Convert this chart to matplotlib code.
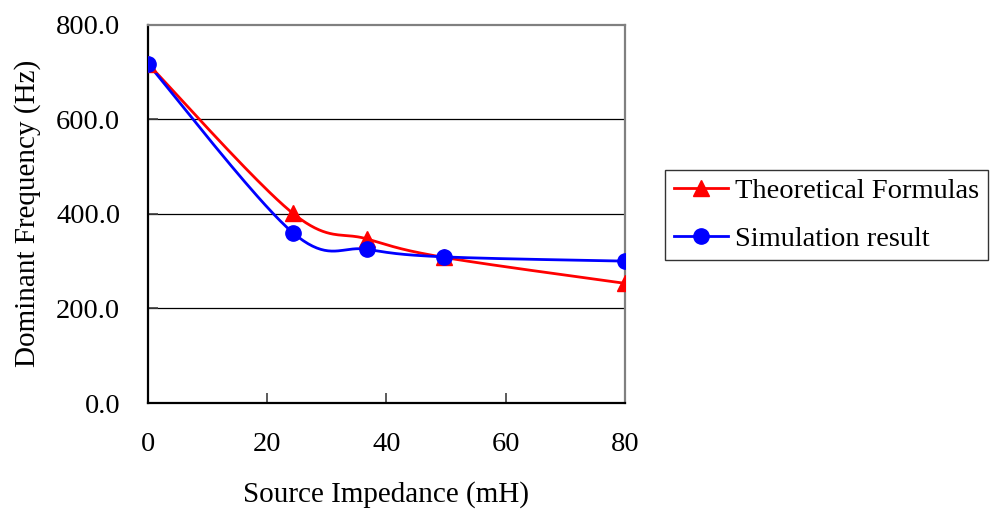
import numpy as np
import matplotlib.pyplot as plt

plt.rcParams['font.family'] = ['Liberation Serif', 'DejaVu Serif']

impedance = [0, 24.3, 36.7, 49.6, 80]
theoretical = [717, 401, 347, 308, 253]
simulation = [717, 360, 325, 309, 300]

x_ticks = [0, 20, 40, 60, 80]
y_ticks = [0, 200, 400, 600, 800]


def smooth(xs, ys, sx, sy, n=40):
    # excel-like smoothed line (catmull-rom through the points)
    p = np.column_stack([np.asarray(xs, float) / sx, np.asarray(ys, float) / sy])
    p = np.vstack([p[0], p, p[-1]])
    out = []
    for i in range(1, len(p) - 2):
        p0, p1, p2, p3 = p[i - 1], p[i], p[i + 1], p[i + 2]
        t = np.linspace(0, 1, n)[:, None]
        c = 0.5 * ((2 * p1) + (-p0 + p2) * t + (2 * p0 - 5 * p1 + 4 * p2 - p3) * t ** 2
                   + (-p0 + 3 * p1 - 3 * p2 + p3) * t ** 3)
        out.append(c)
    c = np.vstack(out)
    return c[:, 0] * sx, c[:, 1] * sy


fig = plt.figure(figsize=(9.9, 5.13), dpi=100)
ax = fig.add_axes([0.1495, 0.2144, 0.4818, 0.7376])

# scale so smoothing happens in roughly screen-proportional units
sx, sy = 80 / 477, 800 / 378

for ys, color, marker, ms, label in [
    (theoretical, '#ff0000', '^', 12, 'Theoretical Formulas'),
    (simulation, '#0000ff', 'o', 11, 'Simulation result'),
]:
    cx, cy = smooth(impedance, ys, sx, sy)
    ax.plot(cx, cy, color=color, lw=2.0, zorder=3)
    ax.plot(impedance, ys, color=color, lw=0, marker=marker, ms=ms, zorder=4)
    ax.plot([], [], color=color, lw=2.0, marker=marker, ms=ms, label=label)

ax.set_xlim(0, 80)
ax.set_ylim(0, 800)
ax.set_xticks(x_ticks)
ax.set_yticks(y_ticks)
ax.set_yticklabels([f'{v:.1f}' for v in y_ticks])
ax.set_xticklabels([str(v) for v in x_ticks])

for v in y_ticks[1:-1]:
    ax.axhline(v, color='black', lw=0.9, zorder=1)

for s in ['left', 'bottom']:
    ax.spines[s].set_color('black')
    ax.spines[s].set_linewidth(1.6)
for s in ['top', 'right']:
    ax.spines[s].set_color('#808080')
    ax.spines[s].set_linewidth(1.6)

ax.tick_params(axis='both', direction='in', length=7, width=1.2, labelsize=20.5, color='#404040')
ax.tick_params(axis='y', pad=20)
ax.tick_params(axis='x', pad=21)

ax.set_xlabel('Source Impedance (mH)', fontsize=21, labelpad=17)
ax.set_ylabel('Dominant Frequency (Hz)', fontsize=21, labelpad=11)

leg = fig.legend(loc='upper left', bbox_to_anchor=(0.672, 0.669), fontsize=20.5,
                 frameon=True, fancybox=False, handlelength=1.9, handletextpad=0.25,
                 borderpad=0.3, labelspacing=0.75, borderaxespad=0)
leg.get_frame().set_edgecolor('black')
leg.get_frame().set_linewidth(1.0)

fig.savefig('out.png', dpi=100)
